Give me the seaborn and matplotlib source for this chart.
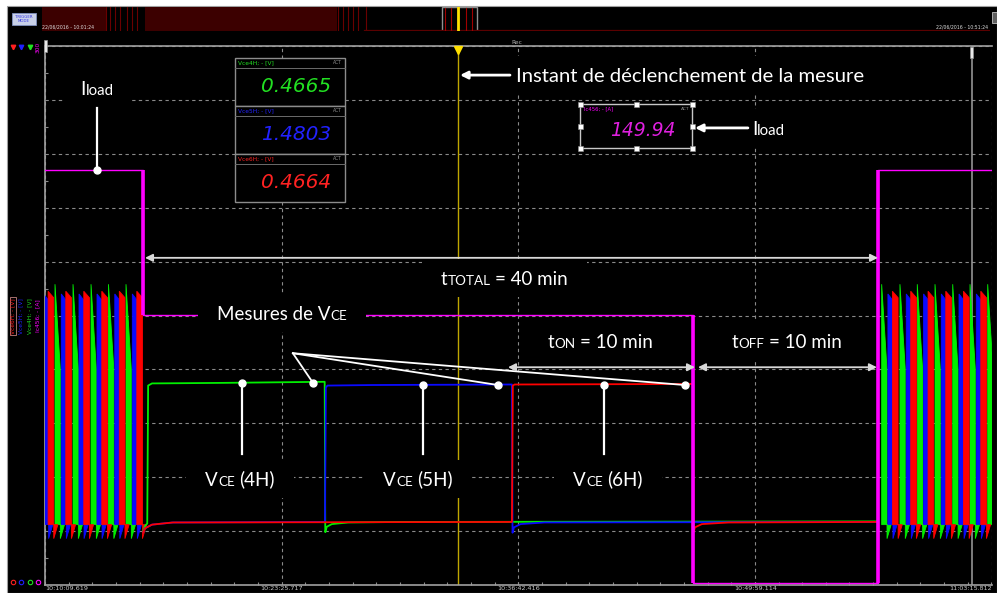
import numpy as np
import pandas as pd
import matplotlib
matplotlib.use('Agg')
import matplotlib.pyplot as plt
import matplotlib.patches as mpatches
import matplotlib.transforms as mtransforms
from matplotlib.ticker import AutoMinorLocator
import seaborn as sns

W, H = 997, 593
FONT = 'Lato'

# time axis: seconds after 10:10:09.619 ; y axis: screen divisions (0..10)
tick_pos = [0, 796.1, 1592.8, 2389.5, 3186.2]
tick_labels = ['10:10:09.619', '10:23:25.717', '10:36:42.416', '10:49:59.114', '11:03:15.812']
trigger_t = 1389.5
cursor_t = 3118.9

# load current (Ic456)
iload_t = [0, 330, 330, 2180, 2180, 2803, 2803, 3186.2]
iload_v = [7.70, 7.70, 5.01, 5.01, 0.04, 0.04, 7.70, 7.70]

# Vce traces during the 40 min sequence
vce4_t = [330, 337, 344, 347, 360, 600, 941, 943, 948, 965, 1020, 1200, 2803]
vce4_v = [1.00, 1.10, 1.14, 3.70, 3.74, 3.75, 3.77, 0.98, 1.08, 1.13, 1.16, 1.17, 1.18]
vce5_t = [330, 336, 360, 430, 942, 945, 950, 1100, 1571, 1573, 1578, 1600, 1680, 2803]
vce5_v = [0.98, 1.05, 1.12, 1.16, 1.17, 3.66, 3.70, 3.71, 3.72, 0.97, 1.07, 1.13, 1.16, 1.17]
vce6_t = [330, 336, 360, 430, 1571, 1574, 1580, 2180, 2182, 2187, 2210, 2300, 2803]
vce6_v = [0.98, 1.05, 1.12, 1.16, 1.17, 3.70, 3.72, 3.73, 0.98, 1.07, 1.13, 1.16, 1.17]

# power cycling pulses before / after the sequence (start times, s)
g_start = [33.6, 94.2, 154.8, 213.6, 272.5, 2815.0, 2876.5, 2934.8, 2994.4, 3054.0, 3112.2, 3171.7]
b_start = [-4.7, 54.8, 114.4, 175.0, 234.8, 293.7, 2836.0, 2897.7, 2956.0, 3015.6, 3075.2, 3133.4]
r_start = [10.4, 70.0, 130.5, 191.1, 250.0, 308.9, 2851.3, 2912.8, 2971.1, 3030.7, 3090.3, 3148.5]
pulse_width = {'g': 18, 'b': 17, 'r': 19}
pulse_top = {'g': (5.58, 4.0), 'b': (5.40, 5.28), 'r': (5.45, 5.33)}
cyc_low, cyc_dip = 1.12, 0.86

# digital displays
disp_labels = ['Vce4H; - [V]', 'Vce5H; - [V]', 'Vce6H; - [V]']
disp_values = ['0.4665', '1.4803', '0.4664']
disp_colors = ['#22e022', '#2222ff', '#ff2222']
iload_label = 'Ic456; - [A]'
iload_value = '149.94'

chan_names = ['Vce6H; - [V]', 'Vce5H; - [V]', 'Vce4H; - [V]', 'Ic456; - [A]']
chan_colors = ['#ff2020', '#2020ff', '#20e020', '#ff00ff']
GREEN, BLUE, RED, MAG = '#00f000', '#0a0aff', '#ff0000', '#ff00ff'

# overview strip (fraction of record)
ov_span_start = [0.0, 0.1087]
ov_span_end = [0.0686, 0.3112]
ov_lines = [0.068, 0.072, 0.077, 0.082, 0.090, 0.095, 0.100, 0.312, 0.317, 0.323, 0.328, 0.333, 0.342]
ov_win_lines = [0.425, 0.431, 0.447, 0.454]
ov_trigger = 0.4388


def fig_rect(x0, y0, x1, y1):
    return [x0 / W, 1 - y1 / H, (x1 - x0) / W, (y1 - y0) / H]


fig = plt.figure(figsize=(W / 100, H / 100), dpi=100)
fig.patch.set_facecolor('white')

bg = fig.add_axes([0, 0, 1, 1], zorder=0)
bg.set_xlim(0, W)
bg.set_ylim(H, 0)
bg.axis('off')
bg.add_patch(mpatches.Rectangle((7, 6), W - 7, H - 6, fc='black', ec='#a0a0a0', lw=0.8))

# ---- main scope screen
ax = fig.add_axes(fig_rect(45, 46, 992, 585), zorder=2)
ax.set_facecolor('black')

for starts, key, col in [(g_start, 'g', GREEN), (b_start, 'b', BLUE), (r_start, 'r', RED)]:
    w = pulse_width[key]
    pk, end = pulse_top[key]
    for s in starts:
        xs = [s, s, s + w, s + w, s + w + 14]
        ys = [cyc_low, pk, end, cyc_dip, cyc_low]
        ax.fill(xs, ys, color=col, lw=0.6, zorder=3)

steady = pd.concat([
    pd.DataFrame({'t': vce4_t, 'v': vce4_v, 'ch': 'Vce4H'}),
    pd.DataFrame({'t': vce5_t, 'v': vce5_v, 'ch': 'Vce5H'}),
    pd.DataFrame({'t': vce6_t, 'v': vce6_v, 'ch': 'Vce6H'}),
])
sns.lineplot(data=steady, x='t', y='v', hue='ch', hue_order=['Vce4H', 'Vce5H', 'Vce6H'],
             palette={'Vce4H': GREEN, 'Vce5H': BLUE, 'Vce6H': RED},
             estimator=None, sort=False, legend=False, lw=1.3, ax=ax, zorder=4)
sns.lineplot(x=iload_t, y=iload_v, color=MAG, lw=1.0, estimator=None, sort=False, ax=ax, zorder=5)
for i in range(len(iload_t) - 1):
    if iload_t[i] == iload_t[i + 1]:
        ax.vlines(iload_t[i], min(iload_v[i], iload_v[i + 1]), max(iload_v[i], iload_v[i + 1]),
                  color=MAG, lw=2.6, zorder=5)

ax.axvline(trigger_t, color='#bfa600', lw=1.0, zorder=2)
ax.axvline(cursor_t, color='#a0a0a0', lw=1.1, zorder=2)
ax.plot(trigger_t, 9.92, marker='v', color='#ffe000', ms=6, clip_on=False, zorder=6)

ax.set_xlim(0, tick_pos[-1])
ax.set_ylim(0, 10)
ax.set_xlabel('')
ax.set_ylabel('')
ax.set_yticks(range(11))
ax.set_yticklabels([])
ax.set_xticks(tick_pos, tick_labels)
ax.xaxis.set_minor_locator(AutoMinorLocator(10))
ax.yaxis.set_minor_locator(AutoMinorLocator(2))
ax.tick_params(which='major', length=0, labelsize=4.6, labelcolor='#c8c8c8', pad=0.6)
ax.tick_params(which='minor', direction='in', length=2.5, color='#8c8c8c', width=0.8)
labels = ax.get_xticklabels()
labels[0].set_ha('left')
labels[-1].set_ha('right')
ax.grid(True, which='major', color='#8a8a8a', ls=(0, (3, 3)), lw=0.8)
ax.set_axisbelow(True)
for side in ['left', 'bottom', 'top']:
    ax.spines[side].set_color('#a0a0a0')
    ax.spines[side].set_linewidth(1.2)
ax.spines['right'].set_visible(False)

# ---- annotations
renderer = fig.canvas.get_renderer()
ident = mtransforms.IdentityTransform()


def rich_text(x, y, pieces, size=13.5, ha='center', padx=19, pady=19):
    px, py = ax.transData.transform((x, y))
    size_px = size * 100 / 72
    texts, widths, gaps = [], [], []
    for s, k in pieces:
        gap = 0.0
        if s.startswith(' '):
            gap = 0.24 * size_px
            s = s.lstrip()
        t = ax.text(0, 0, s, fontsize=size * k, family=FONT, color='white',
                    transform=ident, ha='left', va='baseline', zorder=9)
        widths.append(t.get_window_extent(renderer).width)
        texts.append(t)
        gaps.append(gap)
    total = sum(widths) + sum(gaps)
    x0 = px - total / 2 if ha == 'center' else px
    base = py - 0.36 * size_px
    cx = x0
    for t, w, g in zip(texts, widths, gaps):
        cx += g
        t.set_position((cx, base))
        cx += w
    ax.add_patch(mpatches.Rectangle((x0 - padx, py - pady), total + 2 * padx, 2 * pady,
                                    transform=ident, fc='black', ec='none', zorder=8))


def arrow(x0, x1, y, both=False, lw=1.8, color='white'):
    ax.annotate('', xy=(x1, y), xytext=(x0, y),
                arrowprops=dict(arrowstyle='<|-|>' if both else '-|>', color=color, lw=lw,
                                mutation_scale=11, shrinkA=0, shrinkB=0), zorder=10)


def pin(x, y_top, y_bot):
    ax.plot([x, x], [y_bot, y_top], color='white', lw=1.6, zorder=10)
    ax.plot(x, y_top, 'o', color='white', ms=5, zorder=11)


rich_text(175, 9.22, [('I', 1), ('load', 0.8)], padx=16)
pin(175, 7.70, 8.85)

rich_text(1584.7, 9.46, [('Instant de déclenchement de la mesure', 1)], size=14.6, ha='left')
arrow(1564.5, 1396.3, 9.46, lw=2.0)

rich_text(2378.7, 8.48, [('I', 1), ('load', 0.8)], ha='left', padx=8)
arrow(2365, 2187, 8.48, lw=2.0)

rich_text(1546, 5.70, [('t', 1), ('TOTAL', 0.72), (' = 40 min', 1)])
arrow(336.5, 2802.6, 6.07, both=True, lw=1.3, color='#d8d8d8')

rich_text(797.4, 5.05, [('Mesures de V', 1), ('CE', 0.72)])
apex = (834, 4.30)
for dx, dy in [(901.7, 3.75), (1524, 3.71), (2153, 3.71)]:
    ax.plot([apex[0], dx], [apex[1], dy], color='white', lw=1.3, zorder=10)
    ax.plot(dx, dy, 'o', color='white', ms=5, zorder=11)

rich_text(1867, 4.52, [('t', 1), ('ON', 0.72), (' = 10 min', 1)])
arrow(1557.8, 2186.9, 4.04, both=True, lw=1.3, color='#d8d8d8')
rich_text(2496.5, 4.52, [('t', 1), ('OFF', 0.72), (' = 10 min', 1)])
arrow(2197, 2799, 4.04, both=True, lw=1.3, color='#d8d8d8')

for cx, ytop in [(662.8, 3.75), (1271.8, 3.71), (1880.8, 3.71)]:
    pin(cx, ytop, 2.43)
for cx, lab in [(656, '(4H)'), (1255, '(5H)'), (1894, '(6H)')]:
    rich_text(cx, 1.97, [('V', 1), ('CE', 0.72), (' ' + lab, 1)])

# ---- overview strip on top
ov = fig.add_axes(fig_rect(42, 7, 990, 31), zorder=2)
ov.set_xlim(0, 1)
ov.set_ylim(0, 1)
ov.axis('off')
for a, b in zip(ov_span_start, ov_span_end):
    ov.axvspan(a, b, color='#3c0000', lw=0)
for x in ov_lines:
    ov.axvline(x, color='#6a0000', lw=0.8)
ov.axhline(0.05, xmin=0.34, xmax=1, color='#5a0000', lw=0.9)
for x in ov_win_lines:
    ov.axvline(x, ymin=0.05, ymax=0.95, color='#a00000', lw=0.8)
ov.axvline(ov_trigger, color='#ffe000', lw=2)
ov.add_patch(mpatches.Rectangle((0.4219, 0.0), 0.037, 1.0, fc='none', ec='#909090', lw=1))

# ---- widgets over the screen (pixel coordinates)
fg = fig.add_axes([0, 0, 1, 1], zorder=20)
fg.set_xlim(0, W)
fg.set_ylim(H, 0)
fg.axis('off')

fg.add_patch(mpatches.Rectangle((12, 13), 24, 12, fc='#c8d0e8', ec='#8090c0', lw=0.6))
fg.text(24, 19, 'TRIGGER\nMODE', fontsize=2.8, color='#3030e0', ha='center', va='center',
        linespacing=1.0)
fg.text(42, 27, '22/06/2016 - 10:01:24', fontsize=3.3, color='#e0e0e0', va='center')
fg.text(988, 27, '22/06/2016 - 10:51:24', fontsize=3.3, color='#e0e0e0', va='center', ha='right')
fg.add_patch(mpatches.Rectangle((992, 12), 5, 11, fc='#606060', ec='#c0c0c0', lw=0.6))
fg.text(517, 42, 'Rec', fontsize=4.2, color='#b0b0b0', ha='center', va='center')

# left channel widgets
for i, (name, col) in enumerate(zip(chan_names, chan_colors)):
    x = 13 + 8.3 * i
    if i < 3:
        fg.plot(x, 47, marker='v', color=col, ms=3.2)
    fg.plot(x, 582, marker='o', mfc='none', mec=col, ms=3.2, mew=0.8)
    kw = dict(fc='none', ec='#c08080', lw=0.6, pad=0.6) if i == 0 else None
    fg.text(x, 316, name, rotation=90, fontsize=4.2, color=col, ha='center', va='center', bbox=kw)
fg.text(37.5, 47, '300', rotation=90, fontsize=4.2, color=MAG, ha='center', va='center')
fg.add_patch(mpatches.Rectangle((43.5, 40), 3, 12, fc='#e8e8e8', ec='#909090', lw=0.5))
fg.add_patch(mpatches.Rectangle((969.5, 47), 3, 11, fc='#e8e8e8', ec='#909090', lw=0.5))

# Vce digital displays
for i, (lab, val, col) in enumerate(zip(disp_labels, disp_values, disp_colors)):
    y0 = 58 + 48 * i
    fg.add_patch(mpatches.Rectangle((235, y0), 110, 48, fc='black', ec='#8c8c8c', lw=1))
    fg.plot([235, 345], [y0 + 10, y0 + 10], color='#6c6c6c', lw=0.7)
    fg.text(238, y0 + 5, lab, fontsize=4.2, color=col, va='center')
    fg.text(342, y0 + 5, 'ACT', fontsize=3.3, color='#909090', va='center', ha='right')
    fg.text(331, y0 + 29, val, fontsize=14.5, color=col, ha='right', va='center',
            family='DejaVu Sans', style='italic')

# Iload display with selection handles
fg.add_patch(mpatches.Rectangle((580, 104), 112, 44, fc='black', ec='#c8c8c8', lw=1))
fg.text(584, 109, iload_label, fontsize=3.8, color=MAG, va='center')
fg.text(689, 109, 'ACT', fontsize=3.2, color='#909090', va='center', ha='right')
fg.text(675, 130, iload_value, fontsize=13.5, color='#e020e0', ha='right', va='center',
        family='DejaVu Sans', style='italic')
for hx in [580, 636, 692]:
    for hy in [104, 126, 148]:
        if hx == 636 and hy == 126:
            continue
        fg.add_patch(mpatches.Rectangle((hx - 2.5, hy - 2.5), 5, 5, fc='white', ec='#909090', lw=0.4))

fig.savefig('out.png', dpi=100, facecolor=fig.get_facecolor())
